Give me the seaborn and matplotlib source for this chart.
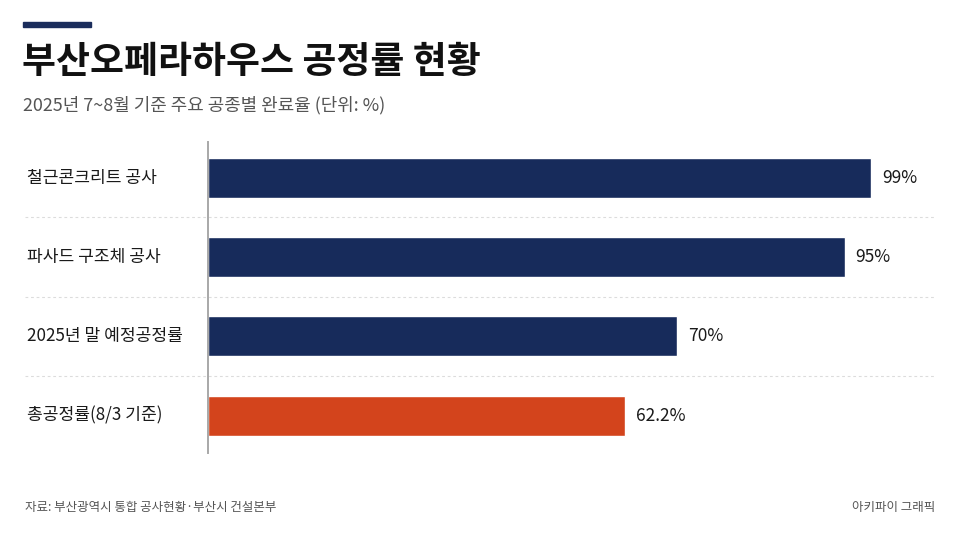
import matplotlib
matplotlib.use("Agg")
import matplotlib.pyplot as plt
import matplotlib.transforms as mtransforms
import seaborn as sns
import pandas as pd

# ---- data ----
categories = ["철근콘크리트 공사", "파사드 구조체 공사", "2025년 말 예정공정률", "총공정률(8/3 기준)"]
values = [99, 95, 70, 62.2]
value_labels = ["99%", "95%", "70%", "62.2%"]
bar_colors = ["#172b5b", "#172b5b", "#172b5b", "#d3441c"]

title = "부산오페라하우스 공정률 현황"
subtitle = "2025년 7~8월 기준 주요 공종별 완료율 (단위: %)"
source = "자료: 부산광역시 통합 공사현황·부산시 건설본부"
credit = "아키파이 그래픽"

sns.set_theme(style="white")
plt.rcParams["font.family"] = ["Noto Sans CJK KR", "DejaVu Sans"]

df = pd.DataFrame({"category": categories, "value": values})

fig = plt.figure(figsize=(9.6, 5.4), dpi=100, facecolor="white")
ax = fig.add_axes([208 / 960, 87 / 540, 727 / 960, 311 / 540])
ax.set_facecolor("white")

sns.barplot(data=df, x="value", y="category", hue="category",
            palette=dict(zip(categories, bar_colors)), legend=False,
            width=0.505, orient="h", ax=ax, saturation=1)

ax.set_xlim(0, 108.5)
ax.set_ylim(3.47, -0.45)
ax.set_xlabel("")
ax.set_ylabel("")
ax.set_xticks([])
ax.set_yticks([])
for s in ["top", "right", "bottom"]:
    ax.spines[s].set_visible(False)
ax.spines["left"].set_color("#a8a8a8")
ax.spines["left"].set_linewidth(1.4)

# category labels (left aligned at figure edge)
trans_lab = mtransforms.blended_transform_factory(fig.transFigure, ax.transData)
for i, c in enumerate(categories):
    ax.text(27 / 960, i, c, transform=trans_lab, ha="left", va="center",
            fontsize=12.3, color="#1a1a1a")

# value labels
for i, (v, lab) in enumerate(zip(values, value_labels)):
    ax.annotate(lab, xy=(v, i), xytext=(8, 0), textcoords="offset points",
                ha="left", va="center", fontsize=12.5, color="#1a1a1a")

# dashed separators
for i in range(len(categories) - 1):
    ax.plot([25 / 960, 935 / 960], [i + 0.5, i + 0.5], transform=trans_lab,
            color="#dcdcdc", linewidth=0.8, linestyle=(0, (2.5, 2.5)), clip_on=False, zorder=0)

# header
fig.patches.append(plt.Rectangle((23 / 960, 1 - 27 / 540), 68 / 960, 5 / 540,
                                 transform=fig.transFigure, color="#1b2d5c", zorder=5))
fig.text(22 / 960, 1 - 63 / 540, title, fontsize=26.6, fontweight="bold",
         color="#111111", ha="left", va="center")
fig.text(23 / 960, 1 - 105 / 540, subtitle, fontsize=12.9, color="#555555",
         ha="left", va="center")

# footer
fig.text(25 / 960, 1 - 507 / 540, source, fontsize=9, color="#555555",
         ha="left", va="center")
fig.text(935 / 960, 1 - 507 / 540, credit, fontsize=9, color="#555555",
         ha="right", va="center")

fig.savefig("out.png", dpi=100, facecolor="white")
